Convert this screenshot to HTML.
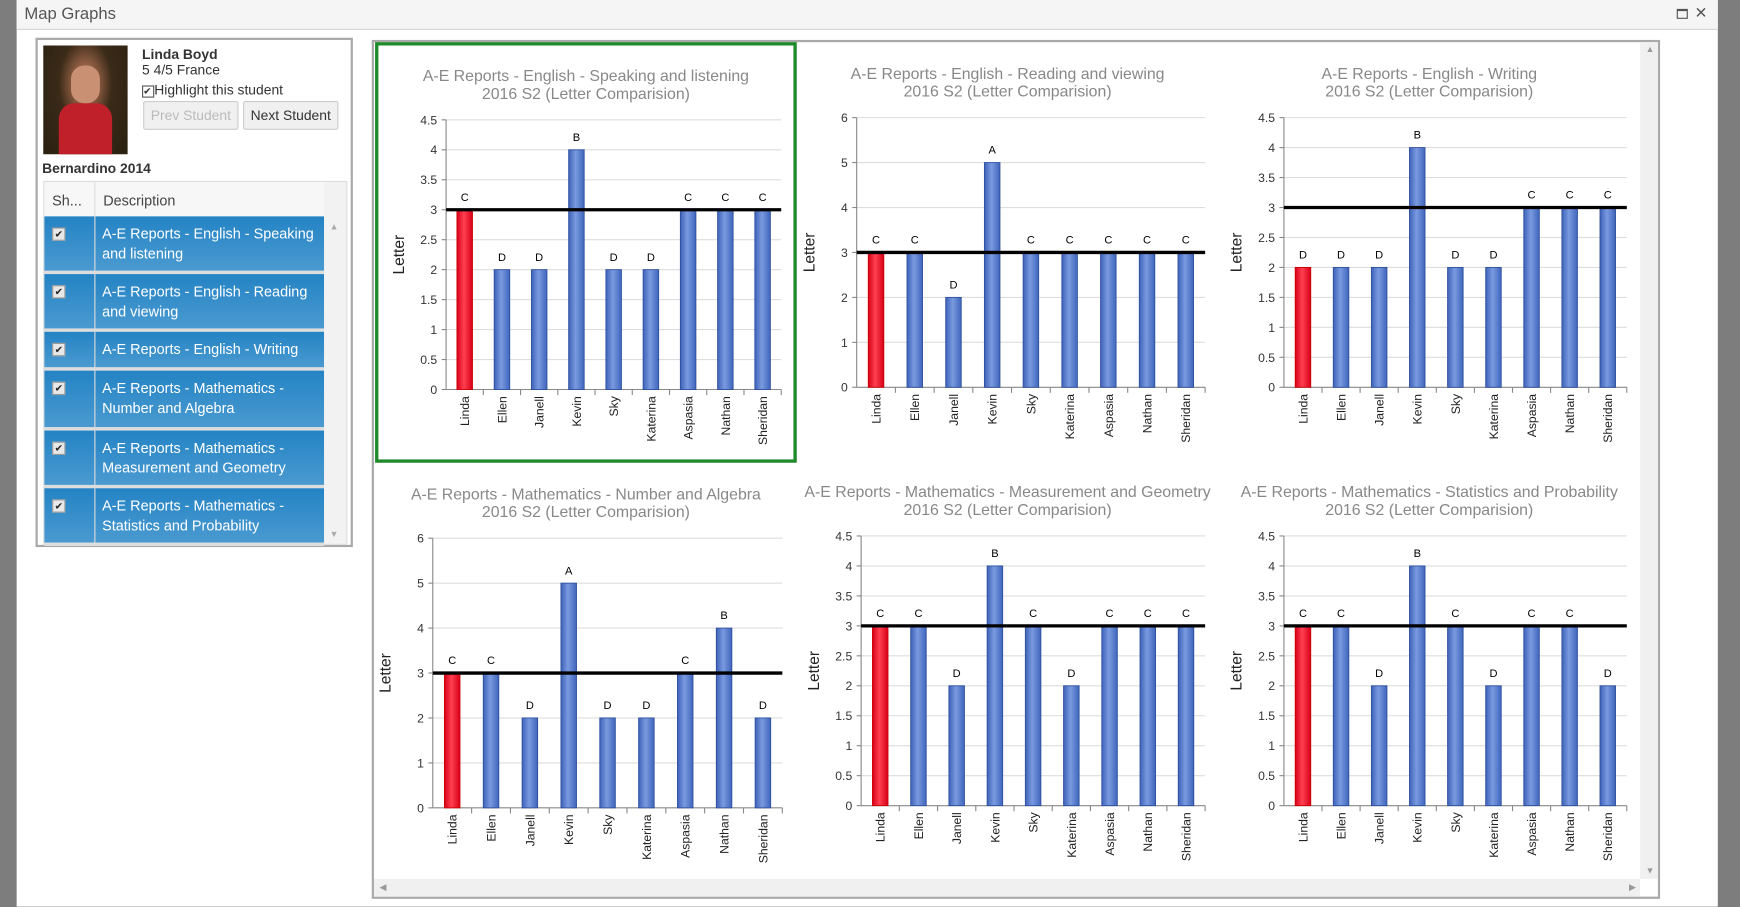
<!DOCTYPE html>
<html><head><meta charset="utf-8">
<style>
html,body{margin:0;padding:0;overflow:hidden;width:1740px;height:907px;background:#7d7d7d;}
#root{position:absolute;left:0;top:0;width:1568px;height:817px;transform:scale(1.10969);transform-origin:0 0;font-family:"Liberation Sans",sans-serif;}
.abs{position:absolute;}
#modal{left:15px;top:0;width:1533px;height:817px;background:#fff;}
#hdr{left:0;top:0;width:1533px;height:26px;background:#f5f5f5;border-bottom:1px solid #d4d4d4;}
#lp{left:17px;top:34px;width:282px;height:455px;border:2px solid #a9a9a9;background:#fff;}
.btn{top:55px;height:24px;border:1px solid #ccc;border-radius:2px;background:#f0f0f0;font-size:12.5px;line-height:24px;text-align:center;}
.row{left:0;width:252px;background:linear-gradient(#2483c4,#4a9ad0);color:#fff;font-size:13px;line-height:18px;border-bottom:3px solid #ddd;box-sizing:border-box;}
.cb{left:7px;width:10px;height:10px;background:#e8e8e8;border:1px solid #999;font-size:9px;line-height:10px;color:#222;text-align:center;}
#cp{left:320px;top:36px;width:1157px;height:770px;border:2px solid #a9a9a9;background:#fff;}
</style></head><body>
<div id="root">
<div id="modal" class="abs">
 <div id="hdr" class="abs">
  <div class="abs" style="left:7px;top:4px;font-size:15px;color:#555">Map Graphs</div>
  <div class="abs" style="left:1496px;top:8px;width:8px;height:6px;border:1px solid #555;border-top-width:2px"></div>
  <div class="abs" style="left:1512px;top:3px;font-size:14px;color:#555">✕</div>
 </div>
 <div id="lp" class="abs">
  <div class="abs" style="left:5px;top:5px;width:76px;height:98px;background:radial-gradient(ellipse at 50% 35%,#c89070 0,#8a5a40 22%,#3a2a18 45%,#2a2010 100%)">
   <div class="abs" style="left:14px;top:52px;width:48px;height:46px;background:#c0202a;border-radius:14px 14px 0 0"></div>
   <div class="abs" style="left:25px;top:18px;width:26px;height:34px;background:#c99073;border-radius:12px"></div>
  </div>
  <div class="abs" style="left:94px;top:6px;font-size:12.5px;font-weight:bold;color:#333">Linda Boyd</div>
  <div class="abs" style="left:94px;top:20px;font-size:12.5px;color:#333">5 4/5 France</div>
  <div class="abs" style="left:94px;top:38px;font-size:12.5px;color:#333"><span style="display:inline-block;width:9px;height:9px;border:1px solid #555;font-size:9px;line-height:9px">✔</span>Highlight this student</div>
  <div class="abs btn" style="left:95px;width:84px;color:#bbb">Prev Student</div>
  <div class="abs btn" style="left:185px;width:84px;color:#333">Next Student</div>
  <div class="abs" style="left:4px;top:109px;font-size:12.5px;font-weight:bold;color:#333">Bernardino 2014</div>
  <div class="abs" style="left:5px;top:127px;width:272px;height:326px;border:1px solid #ddd;background:#f2f2f2">
   <div class="abs" style="left:0;top:0;width:252px;height:31px;background:#f7f7f7;border-bottom:1px solid #ddd;font-size:13px;color:#444">
    <div class="abs" style="left:7px;top:9px">Sh...</div>
    <div class="abs" style="left:45px;top:0;width:1px;height:31px;background:#ddd"></div>
    <div class="abs" style="left:53px;top:9px">Description</div>
   </div>
   <div id="rows"></div>
   <div class="abs" style="left:257px;top:36px;font-size:8px;color:#aaa">▲</div>
   <div class="abs" style="left:257px;top:313px;font-size:8px;color:#aaa">▼</div>
  </div>
 </div>
 <div id="cp" class="abs">
  <div class="abs" style="left:1141px;top:0;width:16px;height:754px;background:#f0f0f0"></div>
  <div class="abs" style="left:0;top:754px;width:1141px;height:16px;background:#f0f0f0"></div>
  <div class="abs" style="left:1146px;top:2px;font-size:8px;color:#999">▲</div>
  <div class="abs" style="left:1146px;top:742px;font-size:8px;color:#999">▼</div>
  <div class="abs" style="left:5px;top:757px;font-size:8px;color:#999">◀</div>
  <div class="abs" style="left:1131px;top:757px;font-size:8px;color:#999">▶</div>
 </div>
 <div class="abs" style="left:323px;top:38px;width:374px;height:373px;border:3px solid #1e8a2a"></div>
</div>
<svg id="svg" class="abs" style="left:0;top:0" width="1568" height="817"></svg>
</div>
<script>
const rowTexts=["A-E Reports - English - Speaking and listening","A-E Reports - English - Reading and viewing","A-E Reports - English - Writing","A-E Reports - Mathematics - Number and Algebra","A-E Reports - Mathematics - Measurement and Geometry","A-E Reports - Mathematics - Statistics and Probability"];
const rowH=[52,52,35,54,52,52];
let ry=31;const rc=document.getElementById('rows');
rowTexts.forEach((t,i)=>{const d=document.createElement('div');d.className='abs row';d.style.top=ry+'px';d.style.height=rowH[i]+'px';


d.innerHTML='<div class="abs cb" style="top:10px">✔</div><div class="abs" style="left:45px;top:0;width:1px;height:100%;background:#ddd"></div><div class="abs" style="left:52px;top:7px;width:195px">'+t+'</div>';
rc.appendChild(d);ry+=rowH[i];});

const names=["Linda","Ellen","Janell","Kevin","Sky","Katerina","Aspasia","Nathan","Sheridan"];
const titles=["A-E Reports - English - Speaking and listening","A-E Reports - English - Reading and viewing","A-E Reports - English - Writing","A-E Reports - Mathematics - Number and Algebra","A-E Reports - Mathematics - Measurement and Geometry","A-E Reports - Mathematics - Statistics and Probability"];
const vals1=[3,2,2,4,2,2,3,3,3];
const vals2=[3,3,2,5,3,3,3,3,3];
const vals3=[2,2,2,4,2,2,3,3,3];
const vals4=[3,3,2,5,2,2,3,4,2];
const vals5=[3,3,2,4,3,2,3,3,3];
const vals6=[3,3,2,4,3,2,3,3,2];
const letters1=["C","D","D","B","D","D","C","C","C"];
const letters2=["C","C","D","A","C","C","C","C","C"];
const letters3=["D","D","D","B","D","D","C","C","C"];
const letters4=["C","C","D","A","D","D","C","B","D"];
const letters5=["C","C","D","B","C","D","C","C","C"];
const letters6=["C","C","D","B","C","D","C","C","D"];
const refValue=3;
const yMaxes=[4.5,6,4.5,6,4.5,4.5];
const ySteps=[0.5,1,0.5,1,0.5,0.5];
const series=[vals1,vals2,vals3,vals4,vals5,vals6];
const letterSets=[letters1,letters2,letters3,letters4,letters5,letters6];
const frames=[[402,704,108,351,528,68],[772,1086,106,349,908,66],[1157,1466,106,349,1288,66],[390,705,485,728,528,445],[776,1086,483,726,908,443],[1157,1466,483,726,1288,443]];

const NS='http://www.w3.org/2000/svg';const svg=document.getElementById('svg');
svg.innerHTML='<defs><linearGradient id="gb" x1="0" x2="1"><stop offset="0" stop-color="#3d62b8"/><stop offset="0.45" stop-color="#7a9ae0"/><stop offset="1" stop-color="#3f66bc"/></linearGradient><linearGradient id="gr" x1="0" x2="1"><stop offset="0" stop-color="#d8001a"/><stop offset="0.45" stop-color="#ff4050"/><stop offset="1" stop-color="#d8001a"/></linearGradient></defs>';
function mk(tag,at,p){const e=document.createElementNS(NS,tag);for(const k in at)e.setAttribute(k,at[k]);(p||svg).appendChild(e);return e;}
series.forEach((vals,ci)=>{
 const [x0,x1,yt,yb,cx,ty]=frames[ci];const max=yMaxes[ci],step=ySteps[ci];
 const g=mk('g',{});
 
 
 const ys=v=>yb-(v/max)*(yb-yt);const bw=(x1-x0)/names.length;const xs=i=>x0+bw*(i+0.5);
 const t1=mk('text',{x:cx,y:ty+5,'text-anchor':'middle','font-size':14.3,fill:'#888'},g);t1.textContent=titles[ci];
 
 
 const t2=mk('text',{x:cx,y:ty+21,'text-anchor':'middle','font-size':14.3,fill:'#888'},g);t2.textContent='2016 S2 (Letter Comparision)';
 
 
 for(let v=0;v<=max+1e-9;v+=step){const y=ys(v);
  if(v>0)mk('line',{x1:x0,x2:x1,y1:y,y2:y,stroke:'#ddd'},g);
  mk('line',{x1:x0-4,x2:x0,y1:y,y2:y,stroke:'#888'},g);
  const tl=mk('text',{x:x0-8,y:y+4,'text-anchor':'end','font-size':11,fill:'#333'},g);tl.textContent=String(Math.round(v*10)/10);
  
  }
 mk('line',{x1:x0,x2:x0,y1:yt,y2:yb,stroke:'#888'},g);
 mk('line',{x1:x0,x2:x1,y1:yb,y2:yb,stroke:'#888'},g);
 const yl=mk('text',{x:0,y:0,transform:`translate(${x0-38},${(yt+yb)/2}) rotate(-90)`,'text-anchor':'middle','font-size':14,fill:'#222'},g);yl.textContent='Letter';
 
 
 vals.forEach((v,i)=>{const x=xs(i);
  mk('line',{x1:x0+bw*(i+1),x2:x0+bw*(i+1),y1:yb,y2:yb+5,stroke:'#888'},g);
  const r=mk('rect',{x:x-7,y:ys(v),width:14,height:yb-ys(v),fill:i===0?'url(#gr)':'url(#gb)',stroke:i===0?'#c00':'#2e4f9e','stroke-width':0.8},g);
  
  
  const lt=mk('text',{x:x,y:ys(v)-8,'text-anchor':'middle','font-size':10,fill:'#000'},g);lt.textContent=letterSets[ci][i];
  
  
  const nl=mk('text',{x:0,y:0,transform:`translate(${x+4},${yb+6}) rotate(-90)`,'text-anchor':'end','font-size':11,fill:'#222'},g);nl.textContent=names[i];
  
  });
 mk('line',{x1:x0,x2:x1,y1:ys(refValue),y2:ys(refValue),stroke:'#000','stroke-width':3},g);
});
</script>
</body></html>
